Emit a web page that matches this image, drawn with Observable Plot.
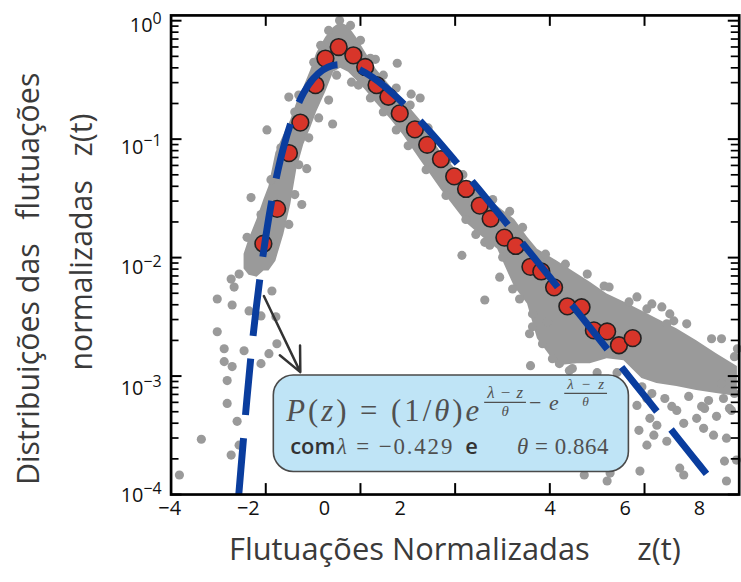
<!DOCTYPE html>
<html>
<head>
<meta charset="utf-8">
<script src="https://cdn.jsdelivr.net/npm/d3@7"></script>
<script src="https://cdn.jsdelivr.net/npm/@observablehq/plot@0.6"></script>
<style>
  html, body { margin: 0; padding: 0; overflow: hidden; background: #fff; }
  #chart svg { display: block; }
</style>
</head>
<body>
<div id="chart"></div>
<script>
// ---------- data ----------
// red points: binned distribution
const redZ = [-2.05, -1.76, -1.51, -1.27, -0.95, -0.74, -0.46, -0.15, 0.10, 0.34, 0.59, 0.83, 1.15, 1.41, 1.70, 1.98, 2.23, 2.52, 2.75, 3.04, 3.28, 3.59, 3.82, 4.09, 4.37, 4.67, 4.93, 5.21, 5.46, 5.75];
const redP = [0.0131, 0.0258, 0.0763, 0.138, 0.286, 0.479, 0.599, 0.510, 0.407, 0.286, 0.228, 0.165, 0.121, 0.0896, 0.0679, 0.0485, 0.0380, 0.0275, 0.0213, 0.01475, 0.01254, 0.00836, 0.00764, 0.00561, 0.00388, 0.00381, 0.00243, 0.00238, 0.00182, 0.00209];

// blue dashed fit curve (read along the dashes)
const fitZ = [-2.57, -2.5, -2.4, -2.3, -2.2, -2.1, -2.0, -1.9, -1.8, -1.7, -1.6, -1.5, -1.4, -1.2, -1.0, -0.8, -0.6, -0.43, -0.2, 0, 0.25, 0.5, 0.75, 1.0, 1.5, 2.0, 2.5, 3.0, 3.5, 4.0, 4.5, 5.0, 5.5, 6.0, 6.5, 7.0, 7.45];
const fitP = [1.0e-4, 2.15e-4, 6.3e-4, 1.65e-3, 3.8e-3, 7.9e-3, 0.0150, 0.0263, 0.0426, 0.0648, 0.0929, 0.126, 0.164, 0.246, 0.323, 0.383, 0.417, 0.426, 0.412, 0.383, 0.334, 0.281, 0.229, 0.183, 0.112, 0.0655, 0.0377, 0.0215, 0.0121, 0.00683, 0.00384, 0.00216, 0.00121, 6.8e-4, 3.8e-4, 2.13e-4, 1.27e-4];

// dense grey cloud: envelope (log10 of P) at sampled z
const bandZ = [-2.458, -2.353, -2.185, -2.038, -1.933, -1.786, -1.618, -1.471, -1.345, -1.197, -1.050, -0.924, -0.735, -0.567, -0.420, -0.252, -0.084, 0.105, 0.315, 0.651, 0.903, 1.261, 1.702, 2.059, 2.269, 2.584, 2.899, 3.256, 3.529, 3.739, 4.160, 4.580, 4.853, 5.210, 5.567, 5.945, 6.261, 6.681, 7.101, 7.521, 7.962];
const bandHiLog10 = [-1.971, -1.846, -1.678, -1.510, -1.400, -1.115, -0.964, -0.838, -0.695, -0.561, -0.418, -0.275, -0.141, -0.057, -0.015, -0.049, -0.141, -0.267, -0.401, -0.561, -0.670, -0.838, -1.115, -1.275, -1.384, -1.493, -1.568, -1.678, -1.829, -1.930, -2.030, -2.139, -2.207, -2.307, -2.375, -2.450, -2.517, -2.601, -2.702, -2.811, -2.920];
const bandLoLog10 = [-2.097, -2.148, -2.165, -2.114, -2.114, -2.030, -1.804, -1.552, -1.258, -1.048, -0.906, -0.771, -0.603, -0.435, -0.401, -0.435, -0.502, -0.586, -0.687, -0.838, -0.964, -1.174, -1.426, -1.610, -1.719, -1.829, -1.930, -2.249, -2.391, -2.685, -2.912, -2.895, -2.895, -2.853, -2.870, -3.021, -3.063, -3.088, -3.122, -3.147, -3.172];

// individual grey points [z, log10 P]
const grayPoints = [
  [-1.239,-1.552],[-2.395,-1.829],[-2.731,-2.181],[-2.563,-2.139],[-2.668,-2.249],[-3.025,-2.349],[-2.710,-2.400],[-2.353,-2.450],
  [-1.870,-2.282],[-1.786,-2.500],[-2.101,-2.492],[-3.025,-2.626],[-2.878,-2.769],[-2.458,-2.786],[-1.765,-2.727],[-1.933,-2.811],
  [-2.878,-2.878],[-2.710,-2.920],[-2.101,-2.895],[-2.815,-3.038],[-2.815,-3.231],[-2.605,-3.382],[-3.361,-3.533],[-2.731,-3.667],
  [-3.824,-3.835],[-2.563,-3.583],[-1.513,-0.645],[-1.975,-0.922],[-0.588,-0.872],[-1.134,-1.249],[-2.311,-1.493],[0.315,-0.326],
  [0.777,-0.359],[-0.189,-0.519],[1.261,-0.653],[1.071,-0.620],[2.143,-1.981],[2.626,-1.871],[2.941,-2.165],[2.626,-2.358],
  [3.571,-2.643],[3.950,-2.542],[5.147,-2.240],[5.672,-2.374],[6.050,-2.433],[6.534,-2.475],[6.618,-2.534],[6.471,-2.559],
  [3.592,-2.912],[4.202,-2.895],[4.412,-2.954],[3.634,-2.584],[4.727,-3.835],[5.210,-3.886],[5.273,-3.819],[5.903,-3.802],
  [6.113,-3.357],[6.471,-3.550],[6.744,-3.777],[6.828,-3.835],[7.731,-3.886],[7.941,-3.709],[7.248,-3.441],[7.521,-3.340],
  [5.840,-3.248],[5.882,-3.458],[6.261,-3.415],[6.197,-3.499],[6.050,-3.583],[7.689,-3.718],[7.458,-3.499],[7.731,-3.524],
  [7.101,-3.357],[6.828,-3.399],[7.269,-3.273],[7.794,-3.273],[7.668,-3.189],[6.681,-3.290],
  [6.155,-3.147],[6.429,-3.189],[6.933,-3.172],[7.353,-3.206],[7.899,-3.147],[5.945,-3.090],[7.626,-3.063],
  [6.155,-2.391],[7.626,-2.685],[7.962,-2.769],
  [-2.101,-1.636],[-1.891,-1.342],[-1.681,-1.073],[-1.387,-0.771],[-1.303,-0.628],[-0.987,-0.351],[-0.840,-0.208],[-0.672,-0.082],
  [-0.441,0.002],[-0.210,-0.040],[0,-0.166],[0.210,-0.317],[0.483,-0.460],[0.756,-0.569],[1.050,-0.712],[1.429,-0.905],
  [1.849,-1.174],[2.164,-1.300],[2.437,-1.442],[2.794,-1.510],[3.151,-1.610],[3.424,-1.745],[3.908,-1.971],[4.328,-2.055],
  [4.790,-2.139],[5.252,-2.248],[5.840,-2.332],[6.366,-2.416],[6.891,-2.559],[7.416,-2.685],[7.899,-2.836],
  [-1.513,-1.720],[-1.387,-1.468],[-1.303,-1.216],[-1.092,-0.989],[-0.882,-0.821],[-0.672,-0.670],[-0.504,-0.460],[-0.042,-0.544],
  [0.210,-0.653],[0.483,-0.771],[0.756,-0.922],[1.008,-1.056],[1.387,-1.258],[1.807,-1.476],[2.227,-1.678],[2.437,-1.804],
  [2.731,-1.896],[3.004,-1.997],[3.214,-2.265],[3.361,-2.349],[3.634,-2.475],[3.845,-2.727],[4.055,-2.853],[4.475,-2.937],
  [4.999,-2.971],[5.420,-2.971],[6.050,-3.189],[6.576,-3.256],[7.206,-3.256],[7.836,-3.290]
];

// axes
const xDomain = [-4, 8];
const yDomain = [1e-4, 1.108];
const xTicks = [-2, 0, 2, 4, 6];
const xTickLabels = ["−4", "−2", "0", "2", "4", "6", "8"];
const xTickLabelPos = [-4.03, -2.37, -0.76, 0.84, 4.01, 5.59, 7.16];
const yMajorTicks = [1, 0.1, 0.01, 0.001, 0.0001];
const yTickExponents = ["0", "−1", "−2", "−3", "−4"];
const yTickLabelPos = [0.92, 0.086, 0.0082, 0.00079, 0.0000982];
const yMinorTicks = [-4, -3, -2, -1].flatMap(e => [2,3,4,5,6,7,8,9].map(k => k * Math.pow(10, e)));

// annotation
const boxZ = [-1.83, 5.67];
const boxP = [1.01e-3, 1.55e-4];
const arrowZ = [-2.04, -1.27];
const arrowP = [4.74e-3, 1.08e-3];
const formulaParams = ["−0.429", "0.864"];

const xLabelParts = ["Flutuações Normalizadas", "z(t)"];
const yLabelLines = ["Distribuições das\u00a0\u00a0\u00a0flutuações", "normalizadas\u00a0\u00a0\u00a0z(t)"];

// ---------- derived tables ----------
const red = redZ.map((z, i) => ({z, p: redP[i]}));
const fit = fitZ.map((z, i) => ({z, p: fitP[i]}));
const band = bandZ.map((z, i) => ({z, hi: Math.pow(10, bandHiLog10[i]), lo: Math.pow(10, bandLoLog10[i])}));
const grays = grayPoints.map(([z, l]) => ({z, p: Math.pow(10, l)}));

const W = 745, H = 582, ML = 171.5, MR = 2.3, MT = 15, MB = 85.3;
const frameW = W - ML - MR, frameH = H - MT - MB;
const gray = "#9a9a9a";

function yTickLabelMark(index, scales) {
  const g = d3.create("svg:g").attr("font-family", "Open Sans").attr("fill", "#111");
  yTickLabelPos.forEach((p, i) => {
    const t = g.append("text")
      .attr("x", scales.x(xDomain[0]) - 9)
      .attr("y", scales.y(p))
      .attr("dy", "0.36em")
      .attr("text-anchor", "end")
      .attr("font-size", 20);
    t.append("tspan").text("10");
    t.append("tspan").attr("dy", -8).attr("font-size", 16).text(yTickExponents[i]);
  });
  return g.node();
}

function formulaMark(index, scales) {
  const bx = scales.x(boxZ[0]), by = scales.y(boxP[0]);
  const g = d3.create("svg:g").attr("fill", "#505050").attr("font-family", "Liberation Serif")
    .attr("text-anchor", "start");
  const t1 = g.append("text").attr("x", bx + 13).attr("y", by + 46).attr("font-size", 31)
    .attr("textLength", 194).attr("lengthAdjust", "spacing");
  t1.append("tspan").attr("font-style", "italic").text("P");
  t1.append("tspan").text("(");
  t1.append("tspan").attr("font-style", "italic").text("z");
  t1.append("tspan").text(") = (1/");
  t1.append("tspan").attr("font-style", "italic").text("θ");
  t1.append("tspan").text(")");
  t1.append("tspan").attr("font-style", "italic").text("e");

  function frac(cx, numBase, barY, denBase, w, fs, fsDen) {
    const n = g.append("text").attr("x", cx).attr("y", numBase).attr("font-size", fs)
      .attr("text-anchor", "middle").attr("textLength", w - 6).attr("lengthAdjust", "spacing");
    n.append("tspan").attr("font-style", "italic").text("λ");
    n.append("tspan").text("−");
    n.append("tspan").attr("font-style", "italic").text("z");
    g.append("line").attr("x1", cx - w / 2).attr("x2", cx + w / 2).attr("y1", barY).attr("y2", barY)
      .attr("stroke", "#505050").attr("stroke-width", 1.3);
    g.append("text").attr("x", cx).attr("y", denBase).attr("font-size", fsDen)
      .attr("text-anchor", "middle").attr("font-style", "italic").text("θ");
  }
  frac(bx + 233, by + 23.5, by + 27.5, by + 41, 42, 17, 15);
  const me = g.append("text").attr("x", bx + 257).attr("y", by + 34.7).attr("font-size", 22)
    .attr("textLength", 30).attr("lengthAdjust", "spacing");
  me.append("tspan").text("−");
  me.append("tspan").attr("font-style", "italic").text("e");
  frac(bx + 314, by + 14.5, by + 18.5, by + 31.5, 43, 15, 13.5);

  const base2 = by + 79.7;
  g.append("text").attr("x", bx + 17).attr("y", base2).attr("font-family", "Open Sans")
    .attr("font-weight", 600).attr("font-size", 22).attr("fill", "#333").text("com");
  const l = g.append("text").attr("x", bx + 64).attr("y", base2).attr("font-size", 23)
    .attr("textLength", 116).attr("lengthAdjust", "spacing");
  l.append("tspan").attr("font-style", "italic").text("λ");
  l.append("tspan").text(" = " + formulaParams[0]);
  g.append("text").attr("x", bx + 193).attr("y", base2).attr("font-family", "Open Sans")
    .attr("font-weight", 600).attr("font-size", 22).attr("fill", "#333").text("e");
  const th = g.append("text").attr("x", bx + 245).attr("y", base2).attr("font-size", 23)
    .attr("textLength", 92).attr("lengthAdjust", "spacing");
  th.append("tspan").attr("font-style", "italic").text("θ");
  th.append("tspan").text(" = " + formulaParams[1]);
  return g.node();
}

const plot = Plot.plot({
  width: W, height: H,
  marginLeft: ML, marginRight: MR, marginTop: MT, marginBottom: MB,
  style: {background: "white", fontFamily: "Open Sans", overflow: "visible"},
  x: {domain: xDomain, axis: null},
  y: {type: "log", domain: yDomain, axis: null},
  marks: [
    Plot.areaY(band, {x: "z", y1: "lo", y2: "hi", fill: gray, curve: "linear"}),
    Plot.dot(grays, {x: "z", y: "p", r: 4.6, fill: gray}),
    Plot.dot(red, {x: "z", y: "p", r: 8.4, fill: "#d8352a", stroke: "#222", strokeWidth: 1.6}),
    Plot.line(fit, {x: "z", y: "p", stroke: "#0a3d9e", strokeWidth: 7, strokeDasharray: "57,23",
      strokeLinecap: "butt", curve: "catmull-rom"}),
    Plot.rect([0], {x1: () => boxZ[0], x2: () => boxZ[1], y1: () => boxP[0], y2: () => boxP[1],
      fill: "#bfe4f6", stroke: "#4a4a4a", strokeWidth: 1.6, rx: 20}),
    Plot.arrow([0], {x1: () => arrowZ[0], y1: () => arrowP[0], x2: () => arrowZ[1], y2: () => arrowP[1],
      stroke: "#333", strokeWidth: 2.5, headLength: 16, headAngle: 50}),
    formulaMark,
    // ticks (inward)
    Plot.tickY(yMajorTicks, {y: d => d, stroke: "#000", strokeWidth: 2, insetRight: frameW - 11}),
    Plot.tickY(yMajorTicks, {y: d => d, stroke: "#000", strokeWidth: 2, insetLeft: frameW - 11}),
    Plot.tickY(yMinorTicks, {y: d => d, stroke: "#000", strokeWidth: 1.7, insetRight: frameW - 8}),
    Plot.tickY(yMinorTicks, {y: d => d, stroke: "#000", strokeWidth: 1.7, insetLeft: frameW - 8}),
    Plot.tickX(xTicks, {x: d => d, stroke: "#000", strokeWidth: 2, insetBottom: frameH - 11}),
    Plot.tickX(xTicks, {x: d => d, stroke: "#000", strokeWidth: 2, insetTop: frameH - 11}),
    Plot.frame({stroke: "#000", strokeWidth: 2.7}),
    // tick labels
    Plot.text(xTickLabels, {x: (d, i) => xTickLabelPos[i], text: d => d, frameAnchor: "bottom",
      dy: 21, fontSize: 20, fill: "#111"}),
    yTickLabelMark,
    // axis titles
    Plot.text([xLabelParts[0]], {text: d => d, frameAnchor: "bottom", dx: -46, dy: 66, fontSize: 31,
      fill: "#3a3a3a", textAnchor: "middle"}),
    Plot.text([xLabelParts[1]], {text: d => d, frameAnchor: "bottom", dx: 205, dy: 66, fontSize: 31,
      fill: "#3a3a3a", textAnchor: "middle"}),
    Plot.text([yLabelLines[0]], {text: d => d, frameAnchor: "left", rotate: -90, dx: -143, dy: 24,
      fontSize: 30.5, fill: "#3a3a3a", textAnchor: "middle"}),
    Plot.text([yLabelLines[1]], {text: d => d, frameAnchor: "left", rotate: -90, dx: -89, dy: -13,
      fontSize: 30.5, fill: "#3a3a3a", textAnchor: "middle"})
  ]
});
document.getElementById("chart").appendChild(plot);
</script>
</body>
</html>
